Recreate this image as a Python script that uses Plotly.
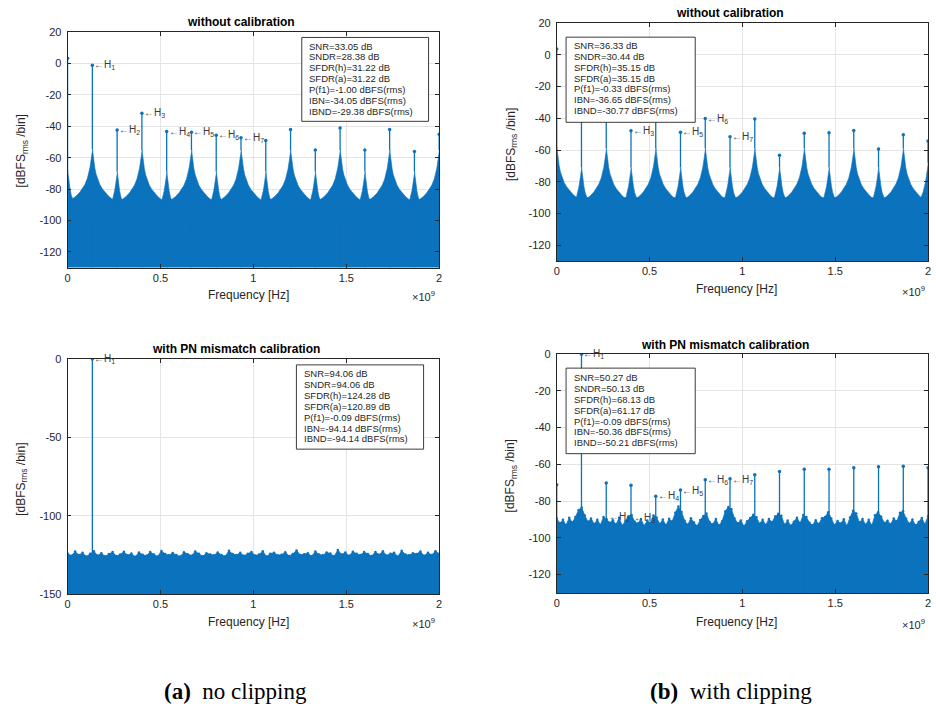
import numpy as np
import plotly.graph_objects as go

W, H = 936, 716
BLUE = "#0b72bd"
AX = "#262626"
SANS = "Liberation Sans, Arial, Helvetica, sans-serif"
SERIF = "Liberation Serif, Times New Roman, serif"

# ---------------- data ----------------
# spur frequencies (x 1e9 Hz): multiples of the fundamental spacing
spur_freq = [0.0, 0.1333, 0.2667, 0.4, 0.5333, 0.6667, 0.8, 0.9333,
             1.0667, 1.2, 1.3333, 1.4667, 1.6, 1.7333, 1.8667, 2.0]

# (a) without calibration
a_top_peak = [3.5, -1.0, -42.3, -31.7, -43.3, -43.8, -45.6, -47.3,
              -49.0, -42.0, -55.0, -41.0, -55.0, -42.0, -56.0, -45.0]
a_top_skirt = [-80, -66.5, -81, -67, -81, -67, -81, -67,
               -81, -67, -81, -67, -81, -67, -81, -67]
a_top_floor = -87
a_top_harm_freq = [0.1333, 0.2667, 0.4, 0.5333, 0.6667, 0.8, 0.9333]
a_top_harm_db = [-1.0, -42.3, -31.7, -43.3, -43.8, -45.6, -47.3]
a_top_harm_n = [1, 2, 3, 4, 5, 6, 7]
a_top_metrics = ["SNR=33.05 dB", "SNDR=28.38 dB", "SFDR(h)=31.22 dB", "SFDR(a)=31.22 dB",
                 "P(f1)=-1.00 dBFS(rms)", "IBN=-34.05 dBFS(rms)", "IBND=-29.38 dBFS(rms)"]

# (b) without calibration
b_top_peak = [3.7, -0.33, -30.0, -47.9, -34.0, -48.8, -40.2, -51.6,
              -40.4, -63.3, -49.4, -49.2, -47.7, -59.3, -50.4, -54.3]
b_top_skirt = [-70, -83, -71, -83, -71, -83, -71, -83,
               -71, -83, -71, -83, -71, -83, -71, -80]
b_top_floor = -90
b_top_harm_freq = [0.4, 0.6667, 0.8, 0.9333]
b_top_harm_db = [-47.9, -48.8, -40.2, -51.6]
b_top_harm_n = [3, 5, 6, 7]
b_top_metrics = ["SNR=36.33 dB", "SNDR=30.44 dB", "SFDR(h)=35.15 dB", "SFDR(a)=35.15 dB",
                 "P(f1)=-0.33 dBFS(rms)", "IBN=-36.65 dBFS(rms)", "IBND=-30.77 dBFS(rms)"]

# leakage skirt profile around each spur (offset in spur spacings, dB rise)
skirt_offset = [0.012, 0.02, 0.035, 0.05, 0.075, 0.1, 0.15, 0.2, 0.3, 0.4, 0.5, 0.65, 0.8, 1.0]
skirt_rise = [12, 10, 7.5, 5.5, 2.5, 0, -3.9, -6.6, -10.5, -13.2, -15.4, -17.9, -19.9, -22]

# (a) with PN mismatch calibration
a_bot_spur_freq = [0.1333]
a_bot_spur_db = [-0.09]
a_bot_noise = [-124.0, -125.5, -122.8, -125.0, -123.6, -126.0, -124.2, -122.5, -125.3, -123.9,
               -125.8, -124.4, -123.1, -125.6, -124.7, -122.9, -125.2, -124.0, -126.1, -123.4,
               -124.8, -125.5, -123.0, -124.6, -125.9, -122.4, -124.3, -125.1, -123.7, -124.9,
               -126.0, -123.2, -124.5, -125.4, -122.7, -124.1, -125.7, -123.8, -124.6, -125.2,
               -123.3, -124.9, -125.8, -122.3, -124.4, -125.0, -123.6, -125.5, -124.2, -123.0,
               -125.3, -124.7, -122.6, -125.9, -124.1, -123.5, -125.1, -124.8, -123.2, -125.6,
               -124.3, -122.1, -125.0, -124.5, -123.9, -125.7, -122.8, -124.6, -125.2, -123.4,
               -124.0, -125.8, -121.8, -124.7, -123.3, -125.4, -122.9, -124.2, -125.0, -123.1,
               -124.4, -125.6, -123.0, -124.8, -122.5, -125.3, -124.1, -123.6, -125.9, -122.2,
               -124.6, -125.1, -123.8, -124.3, -122.7, -125.5, -123.5, -124.9, -122.6, -124.2]
a_bot_harm_freq = [0.1333]
a_bot_harm_db = [-0.09]
a_bot_harm_n = [1]
a_bot_metrics = ["SNR=94.06 dB", "SNDR=94.06 dB", "SFDR(h)=124.28 dB", "SFDR(a)=120.89 dB",
                 "P(f1)=-0.09 dBFS(rms)", "IBN=-94.14 dBFS(rms)", "IBND=-94.14 dBFS(rms)"]

# (b) with PN mismatch calibration
b_bot_spur_db = [-71.1, -0.09, -70.2, -71.4, -77.3, -74.0, -68.4, -67.9,
                 -65.7, -63.9, -62.7, -62.7, -61.8, -61.3, -61.1, -61.8]
b_bot_noise = [-89.5, -92.0, -90.2, -93.1, -89.0, -91.6, -88.7, -84.8, -83.5, -87.9,
               -91.2, -89.4, -92.5, -90.1, -93.0, -88.6, -89.9, -91.8, -90.4, -92.7,
               -89.1, -93.4, -90.8, -88.2, -87.5, -91.3, -92.2, -89.7, -93.5, -90.6,
               -91.9, -87.8, -88.9, -92.4, -90.0, -93.2, -89.6, -91.1, -86.3, -83.0,
               -85.9, -90.7, -92.9, -89.3, -91.7, -93.6, -90.3, -88.1, -86.8, -91.4,
               -92.6, -89.8, -93.3, -90.9, -85.6, -83.2, -84.4, -89.5, -92.1, -90.5,
               -93.7, -91.0, -89.2, -87.4, -88.8, -92.3, -90.2, -93.0, -89.7, -91.5,
               -88.4, -86.9, -88.0, -92.8, -90.6, -93.4, -91.2, -89.0, -92.0, -87.6,
               -88.7, -91.8, -93.1, -90.4, -92.5, -89.3, -88.6, -86.0, -89.4, -93.2,
               -90.8, -92.2, -89.9, -93.6, -88.9, -85.2, -86.7, -91.6, -89.8, -92.9,
               -90.1, -93.3, -87.7, -86.1, -88.5, -91.9, -90.7, -92.6, -89.4, -91.0,
               -86.4, -85.5, -89.6, -92.3, -90.0, -93.1, -91.4, -89.2, -92.7, -88.3]
b_bot_harm_freq = [0.1333, 0.272, 0.405, 0.5333, 0.6667, 0.8, 0.9333]
b_bot_harm_db = [-0.09, -88.4, -89.3, -77.3, -74.5, -68.6, -68.3]
b_bot_harm_n = [1, 2, 3, 4, 5, 6, 7]
b_bot_metrics = ["SNR=50.27 dB", "SNDR=50.13 dB", "SFDR(h)=68.13 dB", "SFDR(a)=61.17 dB",
                 "P(f1)=-0.09 dBFS(rms)", "IBN=-50.36 dBFS(rms)", "IBND=-50.21 dBFS(rms)"]

x_tick_vals = [0, 0.5, 1, 1.5, 2]
x_tick_text = ["0", "0.5", "1", "1.5", "2"]
titles = ["without calibration", "without calibration",
          "with PN mismatch calibration", "with PN mismatch calibration"]
captions = [("(a)", "no clipping"), ("(b)", "with clipping")]

# ---------------- figure ----------------
fig = go.Figure()


def px_x(p):
    return p / W


def px_y(p):
    return 1 - p / H


def ax_ids(i):
    s = "" if i == 0 else str(i + 1)
    return "x" + s, "y" + s


def add_skirt_panel(i, freqs, peaks, skirts, floor, ybot):
    xa, ya = ax_ids(i)
    sp = freqs[1] - freqs[0]
    xs = [freqs[0], freqs[-1], freqs[-1], freqs[0], None]
    ys = [floor, floor, ybot, ybot, None]
    for f, s in zip(freqs, skirts):
        left = [f - o * sp for o in reversed(skirt_offset)]
        right = [f + o * sp for o in skirt_offset]
        lv = [s + r for r in reversed(skirt_rise)]
        rv = [s + r for r in skirt_rise]
        xs += left + right + [right[-1], left[0], None]
        ys += lv + rv + [ybot, ybot, None]
    fig.add_trace(go.Scatter(x=xs, y=ys, fill="toself", fillcolor=BLUE, mode="lines",
                             line=dict(color=BLUE, width=0.6), xaxis=xa, yaxis=ya,
                             hoverinfo="skip", showlegend=False))
    sx, sy = [], []
    for f, s, p in zip(freqs, skirts, peaks):
        sx += [f, f, None]
        sy += [s + skirt_rise[0], p, None]
    fig.add_trace(go.Scatter(x=sx, y=sy, mode="lines", line=dict(color=BLUE, width=1.3),
                             xaxis=xa, yaxis=ya, hoverinfo="skip", showlegend=False))
    fig.add_trace(go.Scatter(x=freqs, y=peaks, mode="markers",
                             marker=dict(color=BLUE, size=3.5), xaxis=xa, yaxis=ya,
                             hoverinfo="skip", showlegend=False))


def add_noise_panel(i, noise, sfreq, sdb, ybot):
    xa, ya = ax_ids(i)
    xs = list(np.linspace(0, 2, len(noise)))
    fig.add_trace(go.Scatter(x=[0] + xs + [2], y=[ybot] + list(noise) + [ybot],
                             fill="toself", fillcolor=BLUE, mode="lines",
                             line=dict(color=BLUE, width=0.8), xaxis=xa, yaxis=ya,
                             hoverinfo="skip", showlegend=False))
    fig.add_trace(go.Scatter(x=xs, y=noise, mode="markers", marker=dict(color=BLUE, size=2.5),
                             xaxis=xa, yaxis=ya, hoverinfo="skip", showlegend=False))
    sx, sy = [], []
    for f, p in zip(sfreq, sdb):
        sx += [f, f, None]
        sy += [ybot, p, None]
    fig.add_trace(go.Scatter(x=sx, y=sy, mode="lines", line=dict(color=BLUE, width=1.3),
                             xaxis=xa, yaxis=ya, hoverinfo="skip", showlegend=False))
    fig.add_trace(go.Scatter(x=sfreq, y=sdb, mode="markers", marker=dict(color=BLUE, size=3.5),
                             xaxis=xa, yaxis=ya, hoverinfo="skip", showlegend=False))


# panel geometry in pixels
panels = [
    dict(px=(65, 439), py=(26.7, 266), yr=(-130, 20), yt=[-120, -100, -80, -60, -40, -20, 0, 20],
         box=(300.7, 32, 428.3, 117.3), tx=306, ty0=40.7, title=(240, 16.7),
         ylab=(19, 147), xlab=(247, 293.5), e9=(437, 295),
         hf=a_top_harm_freq, hd=a_top_harm_db, hn=a_top_harm_n, met=a_top_metrics),
    dict(px=(557.3, 931), py=(17.3, 259.5), yr=(-130, 20), yt=[-120, -100, -80, -60, -40, -20, 0, 20],
         box=(566.7, 31.7, 696.7, 118.3), tx=572.3, ty0=40.0, title=(732, 7.5),
         ylab=(511.7, 141), xlab=(738.5, 287.5), e9=(930, 290),
         hf=b_top_harm_freq, hd=b_top_harm_db, hn=b_top_harm_n, met=b_top_metrics),
    dict(px=(65, 439), py=(359, 598.3), yr=(-150, 0), yt=[-150, -100, -50, 0],
         box=(295.3, 365, 423.3, 450.7), tx=301, ty0=373.7, title=(235, 349),
         ylab=(19, 481), xlab=(247, 626), e9=(437, 628),
         hf=a_bot_harm_freq, hd=a_bot_harm_db, hn=a_bot_harm_n, met=a_bot_metrics),
    dict(px=(557.3, 931), py=(354, 597), yr=(-130, 0), yt=[-120, -100, -80, -60, -40, -20, 0],
         box=(566.7, 368.3, 696.7, 455.3), tx=572.3, ty0=377.7, title=(727, 344.5),
         ylab=(511.7, 478), xlab=(738.5, 626), e9=(930, 628.3),
         hf=b_bot_harm_freq, hd=b_bot_harm_db, hn=b_bot_harm_n, met=b_bot_metrics),
]

add_skirt_panel(0, spur_freq, a_top_peak, a_top_skirt, a_top_floor, -140)
add_skirt_panel(1, spur_freq, b_top_peak, b_top_skirt, b_top_floor, -140)
add_noise_panel(2, a_bot_noise, a_bot_spur_freq, a_bot_spur_db, -160)
add_noise_panel(3, b_bot_noise, spur_freq, b_bot_spur_db, -140)

axis_common = dict(showline=True, linecolor=AX, linewidth=0.8, mirror="ticks", ticks="inside",
                   ticklen=4, tickwidth=0.8, tickcolor=AX, showgrid=True, gridcolor="#e4e4e4",
                   gridwidth=0.8, zeroline=False, fixedrange=True,
                   tickfont=dict(family=SANS, size=11, color=AX))

shapes, annotations = [], []
layout_axes = {}
for i, p in enumerate(panels):
    s = "" if i == 0 else str(i + 1)
    layout_axes["xaxis" + s] = dict(axis_common, domain=[px_x(p["px"][0]), px_x(p["px"][1])],
                                    range=[0, 2], tickvals=x_tick_vals, ticktext=x_tick_text,
                                    anchor="y" + s)
    layout_axes["yaxis" + s] = dict(axis_common, domain=[px_y(p["py"][1]), px_y(p["py"][0])],
                                    range=list(p["yr"]), tickvals=p["yt"],
                                    ticktext=[str(v) for v in p["yt"]], anchor="x" + s,
                                    ticklabelstandoff=3)
    xa, ya = ax_ids(i)
    # harmonic labels
    for f, d, n in zip(p["hf"], p["hd"], p["hn"]):
        annotations.append(dict(x=f, y=d, xref=xa, yref=ya, text="\u2190H<sub>%d</sub>" % n,
                                showarrow=False, xanchor="left", yanchor="middle",
                                font=dict(family=SANS, size=10, color="#3a3a3a")))
    # metrics box
    bx0, by0, bx1, by1 = p["box"]
    shapes.append(dict(type="rect", xref="paper", yref="paper", x0=px_x(bx0), x1=px_x(bx1),
                       y0=px_y(by1), y1=px_y(by0), fillcolor="white",
                       line=dict(color=AX, width=0.9), layer="above"))
    for j, line in enumerate(p["met"]):
        annotations.append(dict(x=px_x(p["tx"]), y=px_y(p["ty0"] + j * 11.1), xref="paper",
                                yref="paper", text=line, showarrow=False, xanchor="left",
                                yanchor="middle", font=dict(family=SANS, size=9.5, color=AX)))
    # title
    annotations.append(dict(x=px_x(p["title"][0]), y=px_y(p["title"][1]), xref="paper",
                            yref="paper", text="<b>%s</b>" % titles[i], showarrow=False,
                            xanchor="center", yanchor="middle",
                            font=dict(family=SANS, size=12, color="#000000")))
    # axis titles
    annotations.append(dict(x=px_x(p["xlab"][0]), y=px_y(p["xlab"][1]), xref="paper",
                            yref="paper", text="Frequency [Hz]", showarrow=False,
                            xanchor="center", yanchor="middle",
                            font=dict(family=SANS, size=12, color=AX)))
    annotations.append(dict(x=px_x(p["ylab"][0]), y=px_y(p["ylab"][1]), xref="paper",
                            yref="paper", text="[dBFS<sub>rms</sub> /bin]", showarrow=False,
                            textangle=-90, xanchor="center", yanchor="middle",
                            font=dict(family=SANS, size=12, color=AX)))
    annotations.append(dict(x=px_x(p["e9"][0]), y=px_y(p["e9"][1]), xref="paper",
                            yref="paper", text="\u00d710<sup>9</sup>", showarrow=False,
                            xanchor="right", yanchor="middle",
                            font=dict(family=SANS, size=11, color=AX)))

for (lab, txt), cx in zip(captions, [234, 732.5]):
    annotations.append(dict(x=px_x(cx), y=px_y(697), xref="paper", yref="paper",
                            text="<b>%s</b>\u2002%s" % (lab, txt), showarrow=False,
                            xanchor="center", yanchor="middle",
                            font=dict(family=SERIF, size=23, color="#000000")))

fig.update_layout(width=W, height=H, margin=dict(l=0, r=0, t=0, b=0),
                  paper_bgcolor="white", plot_bgcolor="white", showlegend=False,
                  shapes=shapes, annotations=annotations, **layout_axes)

fig.write_html("out.html", config={"displayModeBar": False},
               post_script="document.body.style.margin='0px';"
                           "document.body.style.overflow='hidden';")
